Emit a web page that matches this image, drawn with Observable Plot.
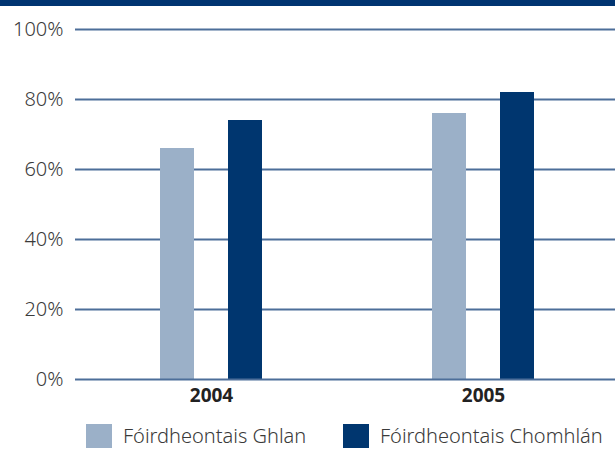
<!DOCTYPE html>
<html>
<head>
<meta charset="utf-8">
<script src="https://cdn.jsdelivr.net/npm/d3@7"></script>
<script src="https://cdn.jsdelivr.net/npm/@observablehq/plot@0.6"></script>
<style>
  html, body { margin: 0; padding: 0; background: #fff; }
  body { width: 615px; height: 450px; position: relative; overflow: hidden; font-family: "Noto Sans", "Open Sans", sans-serif; }
  #band { position: absolute; left: 0; top: 0; width: 615px; height: 6px; background: #003471; }
  #chart { position: absolute; left: 0; top: 0; }
  #chart [aria-label^="x-axis"] text { font-weight: bold; fill: #222; font-size: 19px; }
  #chart [aria-label^="y-axis"] text { font-weight: 300; }
  #legend { position: absolute; top: 424px; left: 86px; display: flex; align-items: center; font-size: 20px; line-height: 24px; color: #3a3a3a; font-weight: 300; }
  .item { display: flex; align-items: center; }
  .item:first-child { width: 257px; }
  .sw { width: 26px; height: 24px; margin-right: 11px; }
</style>
</head>
<body>
<div id="band"></div>
<div id="chart"></div>
<div id="legend"></div>
<script>
const years = ["2004", "2005"];
const seriesNames = ["Fóirdheontais Ghlan", "Fóirdheontais Chomhlán"];
const ghlan = [66, 76];
const chomhlan = [74, 82];
const yTicks = [0, 20, 40, 60, 80, 100];
const colors = ["#9bb0c8", "#00366f"];

const rows = years.flatMap((yr, i) => [
  {year: yr, series: seriesNames[0], value: ghlan[i]},
  {year: yr, series: seriesNames[1], value: chomhlan[i]}
]);

const chart = Plot.plot({
  width: 615,
  height: 410,
  marginTop: 29,
  marginBottom: 31,
  marginLeft: 75,
  marginRight: 0,
  style: {fontSize: "20px", fontFamily: "'Noto Sans', 'Open Sans', sans-serif", color: "#3a3a3a", background: "transparent"},
  x: {domain: years, range: [75, 619], padding: 0, tickSize: 0, tickPadding: 9, label: null},
  y: {domain: [0, 100], ticks: yTicks, tickFormat: d => d + "%", tickSize: 0, tickPadding: 12, label: null},
  color: {domain: seriesNames, range: colors},
  marks: [
    Plot.ruleY(yTicks.filter(t => t > 0), {y: d => d, stroke: "#4d6e99", strokeWidth: 2}),
    Plot.barY(rows.filter(d => d.series === seriesNames[0]), {x: "year", y: "value", fill: "series", insetLeft: 85, insetRight: 153}),
    Plot.barY(rows.filter(d => d.series === seriesNames[1]), {x: "year", y: "value", fill: "series", insetLeft: 153, insetRight: 85}),
    Plot.ruleY([0], {stroke: "#4d6e99", strokeWidth: 2})
  ]
});
document.getElementById("chart").appendChild(chart);

const legend = document.getElementById("legend");
seriesNames.forEach((name, i) => {
  const item = document.createElement("div");
  item.className = "item";
  const sw = document.createElement("div");
  sw.className = "sw";
  sw.style.background = colors[i];
  const label = document.createElement("span");
  label.textContent = name;
  item.appendChild(sw);
  item.appendChild(label);
  legend.appendChild(item);
});
</script>
</body>
</html>
